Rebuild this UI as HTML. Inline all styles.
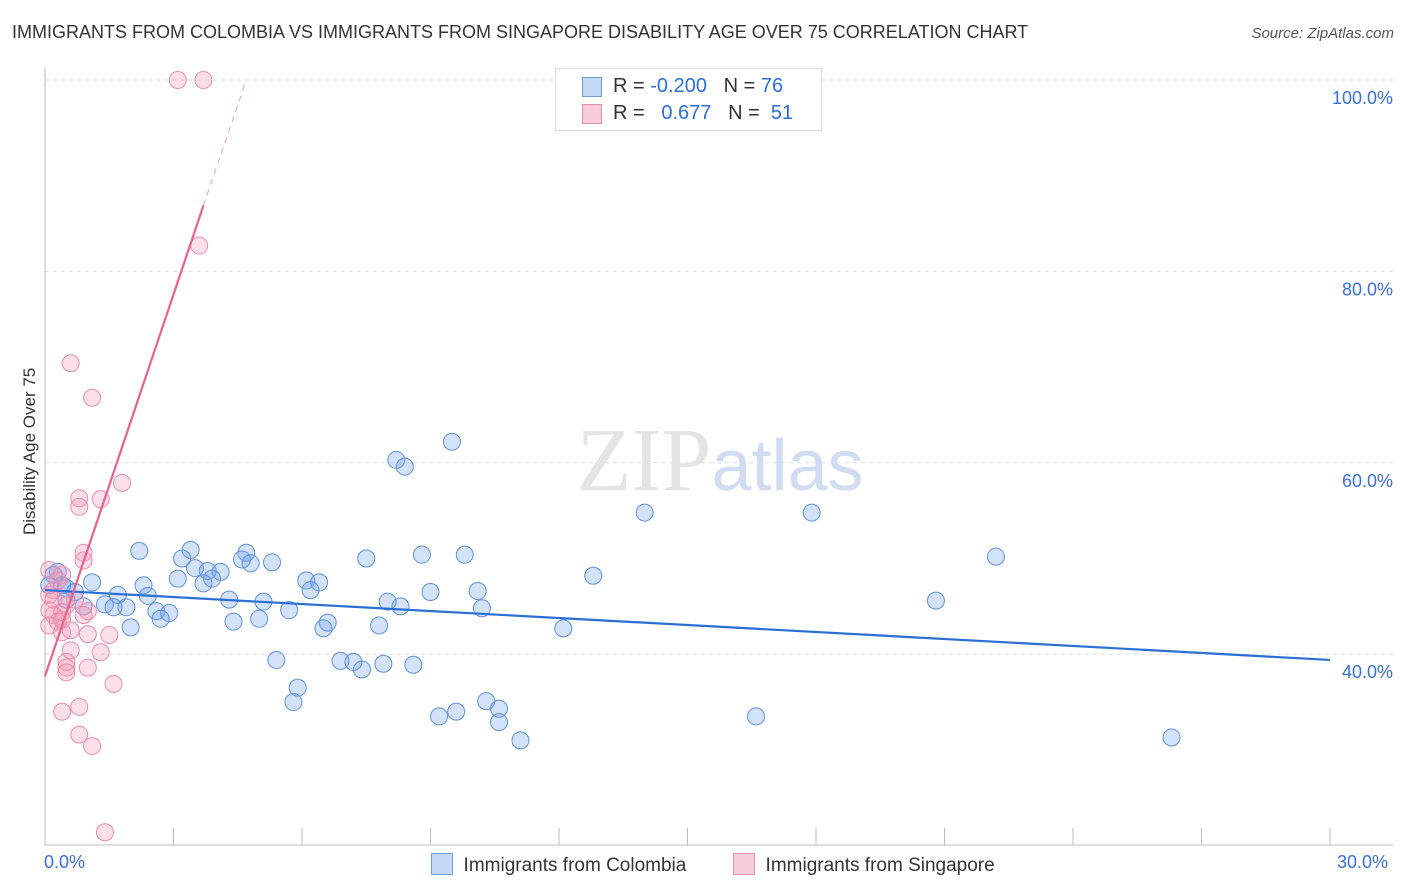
<!DOCTYPE html>
<html><head><meta charset="utf-8"><style>
body{margin:0;background:#fff;font-family:"Liberation Sans",sans-serif}
#wrap{position:relative;width:1406px;height:892px;overflow:hidden}
.t{position:absolute;white-space:nowrap}
</style></head><body>
<div id="wrap">
<div class="t" style="left:12px;top:22px;font-size:18px;color:#333">IMMIGRANTS FROM COLOMBIA VS IMMIGRANTS FROM SINGAPORE DISABILITY AGE OVER 75 CORRELATION CHART</div>
<div class="t" style="right:12px;top:25px;font-size:15px;color:#555;font-style:italic">Source: ZipAtlas.com</div>
<svg id="svg" width="1406" height="892" style="position:absolute;left:0;top:0"></svg>
</div>
<script>
const cXs=[2.2,3.4,3.2,4.7,4.6,5.3,4.8,7.5,8.8,9.8,3.5,4.1,3.8,3.1,3.9,3.7,2.3,1.1,6.1,6.4,6.2,9.0,10.1,12.8,22.2,2.4,1.7,4.3,5.1,8.0,8.3,10.2,20.8,1.9,1.4,1.6,2.6,2.9,2.7,5.7,4.4,5.0,6.6,6.5,7.8,2.0,12.1,14.0,17.9,8.2,8.4,9.5,5.4,6.9,7.2,7.4,7.9,8.6,5.9,5.8,10.3,10.6,10.6,9.6,9.2,16.6,11.1,26.3,0.2,0.4,0.5,0.1,0.3,0.7,0.9,0.5];
const cYs=[50.8,50.9,50.0,50.6,49.9,49.6,49.5,50.0,50.4,50.4,49.0,48.6,48.7,47.9,47.9,47.4,47.2,47.5,47.7,47.5,46.7,46.5,46.6,48.2,50.2,46.1,46.2,45.7,45.5,45.5,45.0,44.8,45.6,44.9,45.2,44.9,44.5,44.3,43.7,44.6,43.4,43.7,43.3,42.7,43.0,42.8,42.7,54.8,54.8,60.3,59.6,62.2,39.4,39.3,39.2,38.4,39.0,38.9,36.5,35.0,35.1,34.3,32.9,34.0,33.5,33.5,31.0,31.3,48.3,47.2,46.9,47.2,48.6,46.5,45.0,45.7];
const sXs=[3.1,3.7,3.6,0.6,1.1,1.8,0.8,0.8,1.3,0.9,0.9,0.1,0.4,0.2,0.2,0.1,0.2,0.4,0.5,1.0,0.9,0.4,0.6,1.0,1.5,0.6,1.3,0.5,0.5,0.5,1.0,1.6,0.4,0.8,0.8,1.1,1.4,0.3,0.1,0.4,0.3,0.7,0.1];
const sYs=[100,100,82.7,70.4,66.8,57.9,56.3,55.4,56.2,50.6,49.8,48.8,48.3,46.7,45.7,44.6,44.1,43.6,45.1,44.5,44.1,42.3,42.5,42.1,42.0,40.4,40.2,39.2,38.6,38.1,38.6,36.9,34.0,34.5,31.6,30.4,21.4,47.7,46.2,44.4,43.4,45.7,43.0];
const yTicks=[100,80,60,40];
const blueTrend=[46.7,39.4];
const pinkTrend=[37.7,86.9,100];
const pinkTrendX=[0,3.7,4.7];
const X=v=>45+v/30*1285, Y=v=>80+(100-v)*9.57;
const svg=document.getElementById('svg');const NS='http://www.w3.org/2000/svg';
function mk(tag,at,parent){const e=document.createElementNS(NS,tag);for(const k in at)e.setAttribute(k,at[k]);(parent||svg).appendChild(e);return e;}
yTicks.forEach(v=>{
 const g=mk('line',{x1:45,x2:1393,y1:Y(v),y2:Y(v),stroke:'#ddd','stroke-dasharray':'4,4'});
 
 
 const t=mk('text',{x:1393,y:Y(v)+24,'text-anchor':'end','font-size':18,fill:'#3a6fd8','font-family':'Liberation Sans'});
 t.textContent=v.toFixed(1)+'%';
 
 
});
const wm=mk('text',{x:720,y:490,'text-anchor':'middle','font-size':90,fill:'#e4e4e4','font-family':'Liberation Serif'});
wm.innerHTML='ZIP<tspan fill="#cfdcf2" font-family="Liberation Sans" font-size="72">atlas</tspan>';


const ax=mk('path',{d:'M45 68V845H1393',stroke:'#bbb',fill:'none'});


for(let i=1;i<=10;i++){const l=mk('line',{x1:X(i*3),x2:X(i*3),y1:828,y2:845,stroke:'#bbb'});
 
 }
function dots(xs,ys,fill,stroke,name){xs.forEach((x,i)=>{const c=mk('circle',{cx:X(x),cy:Y(ys[i]),r:8.5,fill:fill,stroke:stroke,'stroke-width':1});
 
 });}
dots(cXs,cYs,'rgba(110,160,235,0.3)','#5d92de','point-colombia');
dots(sXs,sYs,'rgba(245,150,180,0.3)','#ea8eab','point-singapore');
const bl=mk('line',{x1:X(0),y1:Y(blueTrend[0]),x2:X(30),y2:Y(blueTrend[1]),stroke:'#2a6fd6','stroke-width':2.2});


const pl=mk('line',{x1:X(pinkTrendX[0]),y1:Y(pinkTrend[0]),x2:X(pinkTrendX[1]),y2:Y(pinkTrend[1]),stroke:'#e8628c','stroke-width':2.2});


const pd=mk('line',{x1:X(pinkTrendX[1]),y1:Y(pinkTrend[1]),x2:X(pinkTrendX[2]),y2:Y(pinkTrend[2]),stroke:'#e8a0b8','stroke-width':1,'stroke-dasharray':'6,5'});


</script>
<div class="t" style="left:44px;top:852px;font-size:18px;color:#3a6fd8">0.0%</div>
<div class="t" style="left:1337px;top:852px;font-size:18px;color:#3a6fd8">30.0%</div>
<div class="t" style="left:-50px;top:445px;font-size:17px;color:#333;transform:rotate(-90deg);width:160px;text-align:center">Disability Age Over 75</div>
<div style="position:absolute;left:555px;top:68px;width:265px;height:61px;border:1px solid #ddd;background:#fff;font-size:20px;color:#333">
 <div style="position:absolute;left:26px;top:8px;width:18px;height:18px;background:#c4d8f6;border:1px solid #6f9be0"></div>
 <div class="t" style="left:57px;top:6px">R = <span style="color:#2a6fd6">-0.200</span> &nbsp; N = <span style="color:#2a6fd6">76</span></div>
 <div style="position:absolute;left:26px;top:35px;width:18px;height:18px;background:#f8cdd9;border:1px solid #ea8eab"></div>
 <div class="t" style="left:57px;top:33px">R = &nbsp; <span style="color:#2a6fd6">0.677</span> &nbsp; N = &nbsp;<span style="color:#2a6fd6">51</span></div>
</div>
<div style="position:absolute;left:431px;top:853px;font-size:19px;color:#333">
 <span style="display:inline-block;width:20px;height:20px;background:#c4d8f6;border:1px solid #6f9be0;vertical-align:-4px"></span>&nbsp; Immigrants from Colombia</div>
<div style="position:absolute;left:733px;top:853px;font-size:19px;color:#333">
 <span style="display:inline-block;width:20px;height:20px;background:#f8cdd9;border:1px solid #ea8eab;vertical-align:-4px"></span>&nbsp; Immigrants from Singapore</div>
</body></html>
